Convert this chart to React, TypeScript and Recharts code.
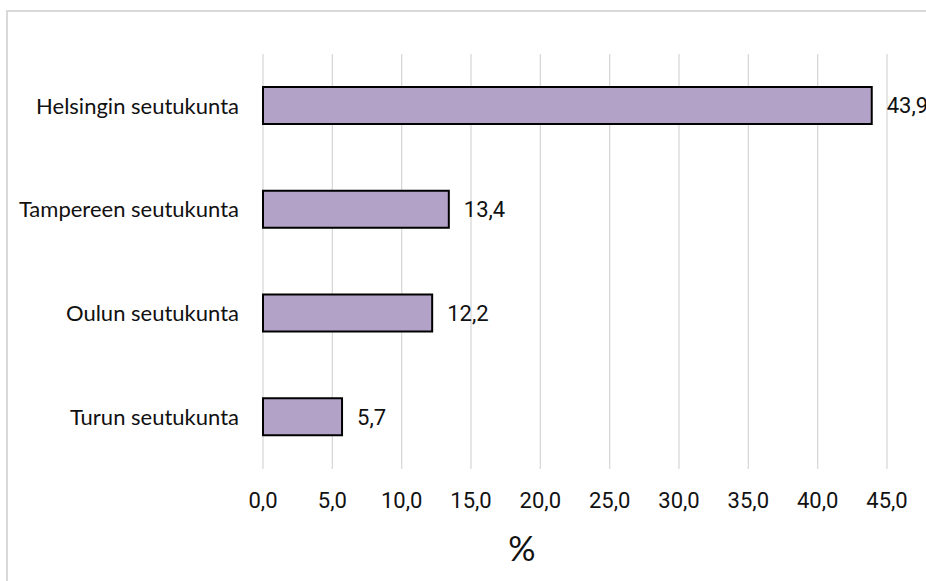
import { BarChart, Bar, XAxis, YAxis, CartesianGrid, LabelList } from "recharts"

const regions = [
  "Helsingin seutukunta",
  "Tampereen seutukunta",
  "Oulun seutukunta",
  "Turun seutukunta",
]
const shares = [43.9, 13.4, 12.2, 5.7]
const xTicks = [0, 5, 10, 15, 20, 25, 30, 35, 40, 45]

const data = regions.map((region, i) => ({ region, value: shares[i] }))

const fmt = (v: number) => v.toFixed(1).replace(".", ",")

export default function App() {
  return (
    <div
      style={{
        position: "fixed",
        left: 0,
        top: 0,
        width: 926,
        height: 581,
        overflow: "hidden",
        background: "#fff",
      }}
    >
      <div style={{ position: "absolute", left: 0, top: 0 }}>
        <BarChart
          width={926}
          height={581}
          data={data}
          layout="vertical"
          margin={{ top: 54, right: 39, bottom: 0, left: 0 }}
        >
          <CartesianGrid horizontal={false} stroke="#d9d9d9" strokeWidth={1.3} />
          <XAxis
            type="number"
            domain={[0, 45]}
            ticks={xTicks}
            tickFormatter={fmt}
            axisLine={false}
            tickLine={false}
            tickSize={0}
            tickMargin={23}
            height={112}
            interval={0}
            tick={{ fontSize: 22, fill: "#111", fontFamily: "Roboto" }}
            label={{
              value: "%",
              position: "insideBottom",
              offset: 20,
              dx: -53,
              fontSize: 34,
              fill: "#111",
              fontFamily: "Lato",
            }}
          />
          <YAxis
            type="category"
            dataKey="region"
            width={263}
            axisLine={false}
            tickLine={false}
            tickSize={0}
            tickMargin={24}
            tick={{ fontSize: 22, fill: "#111", fontFamily: "Lato" }}
          />
          <Bar
            dataKey="value"
            fill="#b3a2c7"
            stroke="#000"
            strokeWidth={2}
            barSize={37}
            isAnimationActive={false}
          >
            <LabelList
              dataKey="value"
              position="right"
              offset={15}
              formatter={(v: number) => fmt(v)}
              style={{ fontSize: 22, fill: "#111", fontFamily: "Roboto" }}
            />
          </Bar>
        </BarChart>
      </div>
      {/* chart frame, cut off at the right and bottom like the source */}
      <div
        style={{
          position: "absolute",
          left: 6,
          top: 10,
          width: 920,
          height: 2,
          background: "#d9d9d9",
        }}
      />
      <div
        style={{
          position: "absolute",
          left: 6,
          top: 10,
          width: 2,
          height: 571,
          background: "#d9d9d9",
        }}
      />
    </div>
  )
}
